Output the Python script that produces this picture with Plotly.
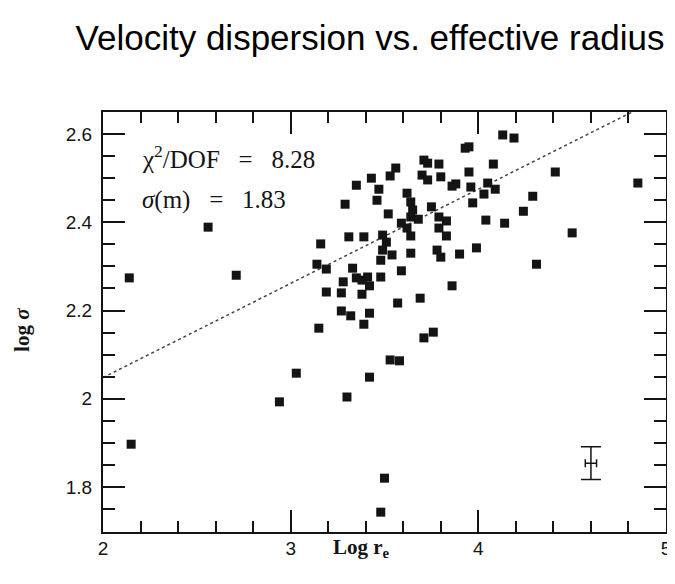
import plotly.graph_objects as go

# Data (log r_e, log sigma)
log_re = [2.14, 2.56, 2.71, 2.15, 2.94, 3.03, 3.30, 3.42, 3.15, 3.27,
          3.32, 3.39, 3.42, 3.48, 3.50, 3.53, 3.58, 3.71, 3.76, 3.57,
          3.69, 4.41, 4.85, 4.29, 4.24, 4.50, 4.31, 4.13, 4.19, 3.93,
          3.95, 4.08, 3.71, 3.73, 3.79, 3.56, 3.53, 3.70, 3.73, 3.80,
          3.95, 3.43, 3.35, 3.47, 3.46, 3.29, 3.62, 3.64, 3.65, 3.64,
          3.68, 3.86, 3.88, 3.96, 4.05, 4.09, 4.03, 3.97, 3.75, 3.79,
          3.83, 3.79, 3.83, 4.04, 4.14, 3.99, 3.90, 3.78, 3.80, 3.64,
          3.59, 3.86, 3.52, 3.59, 3.62, 3.16, 3.31, 3.39, 3.49, 3.51,
          3.49, 3.48, 3.54, 3.14, 3.19, 3.33, 3.28, 3.35, 3.38, 3.41,
          3.42, 3.48, 3.19, 3.27, 3.38, 3.64]
log_sigma = [2.274, 2.389, 2.280, 1.897, 1.993, 2.058, 2.004, 2.049, 2.160, 2.199,
             2.188, 2.169, 2.194, 1.743, 1.820, 2.088, 2.086, 2.138, 2.151, 2.217,
             2.228, 2.514, 2.489, 2.459, 2.425, 2.376, 2.305, 2.598, 2.591, 2.568,
             2.571, 2.532, 2.541, 2.534, 2.532, 2.523, 2.505, 2.507, 2.496, 2.503,
             2.514, 2.500, 2.484, 2.475, 2.450, 2.441, 2.466, 2.446, 2.428, 2.412,
             2.407, 2.482, 2.487, 2.480, 2.489, 2.475, 2.464, 2.444, 2.435, 2.412,
             2.403, 2.387, 2.369, 2.405, 2.398, 2.342, 2.328, 2.337, 2.321, 2.330,
             2.290, 2.256, 2.419, 2.398, 2.387, 2.351, 2.367, 2.367, 2.371, 2.355,
             2.337, 2.314, 2.326, 2.305, 2.294, 2.296, 2.265, 2.274, 2.269, 2.276,
             2.256, 2.276, 2.242, 2.240, 2.237, 2.369]

# Fitted line: log sigma = intercept + slope * (log r_e - 2)
fit_intercept = 2.048
fit_slope = 0.2135
fit_x = [2.0, 5.0]
fit_y = [fit_intercept + fit_slope * (x - 2.0) for x in fit_x]

# Typical error bar
err_x = [4.60]
err_y = [1.854]
err_dx = [0.03]
err_dy = [0.037]

SP = "&nbsp;&nbsp;&nbsp;"
chi2_text = "χ<sup>2</sup>/DOF" + SP + "=" + SP + "8.28"
sigm_text = "<i>σ</i>(m)" + SP + "=" + SP + "1.83"

INK = "#141414"
SANS = "Liberation Sans, Arial"
SERIF = "Liberation Serif, Times New Roman"

fig = go.Figure()
fig.add_trace(go.Scatter(x=fit_x, y=fit_y, mode="lines",
                         line=dict(color="#444444", width=1.5, dash="dot"),
                         hoverinfo="skip", showlegend=False))
fig.add_trace(go.Scatter(x=log_re, y=log_sigma, mode="markers",
                         marker=dict(symbol="square", size=9, color=INK,
                                     line=dict(width=0)),
                         showlegend=False))
fig.add_trace(go.Scatter(x=err_x, y=err_y, mode="markers",
                         marker=dict(size=1, color=INK),
                         error_x=dict(type="data", array=err_dx, color=INK,
                                      thickness=1.5, width=4),
                         error_y=dict(type="data", array=err_dy, color=INK,
                                      thickness=1.5, width=10),
                         showlegend=False))

# The page body adds an 8px margin, so the figure is sized/offset to compensate.
fig.update_layout(
    width=667, height=576,
    margin=dict(l=95, r=9, t=104, b=52),
    paper_bgcolor="white", plot_bgcolor="white",
    title=dict(text="Velocity dispersion vs. effective radius",
               x=0.5427, xanchor="center", y=0.948, yanchor="middle",
               font=dict(family=SANS, size=35, color="black")),
    xaxis=dict(range=[2, 5], tick0=2, dtick=1, showgrid=False, zeroline=False,
               automargin=False,
               showline=True, linewidth=2, linecolor=INK, mirror="ticks",
               ticks="inside", ticklen=22, tickwidth=1.5, tickcolor=INK,
               minor=dict(dtick=0.2, ticks="inside", ticklen=11, tickwidth=1.5,
                          tickcolor=INK, showgrid=False),
               tickfont=dict(family=SANS, size=19, color=INK),
               ticklabelstandoff=-2),
    yaxis=dict(range=[1.698, 2.65], tick0=1.8, dtick=0.2, showgrid=False, zeroline=False,
               automargin=False,
               showline=True, linewidth=2, linecolor=INK, mirror="ticks",
               ticks="inside", ticklen=22, tickwidth=1.5, tickcolor=INK,
               minor=dict(dtick=0.05, ticks="inside", ticklen=12, tickwidth=1.5,
                          tickcolor=INK, showgrid=False),
               tickfont=dict(family=SANS, size=19, color=INK),
               ticklabelstandoff=5),
    annotations=[
        dict(text=chi2_text, x=2.197, y=2.548, xref="x", yref="y",
             xanchor="left", yanchor="middle", showarrow=False,
             font=dict(family=SERIF, size=25, color=INK)),
        dict(text=sigm_text, x=2.197, y=2.450, xref="x", yref="y",
             xanchor="left", yanchor="middle", showarrow=False,
             font=dict(family=SERIF, size=25, color=INK)),
        dict(text="<b>Log r<sub>e</sub></b>", x=0.46, y=-0.038, xref="paper", yref="paper",
             xanchor="center", yanchor="middle", showarrow=False,
             font=dict(family=SERIF, size=21, color=INK)),
        dict(text="<b>log <i>σ</i></b>", x=-0.144, y=0.481, xref="paper", yref="paper",
             xanchor="center", yanchor="middle", textangle=-90, showarrow=False,
             font=dict(family=SERIF, size=21, color=INK)),
    ],
)

fig.write_html("out.html")
